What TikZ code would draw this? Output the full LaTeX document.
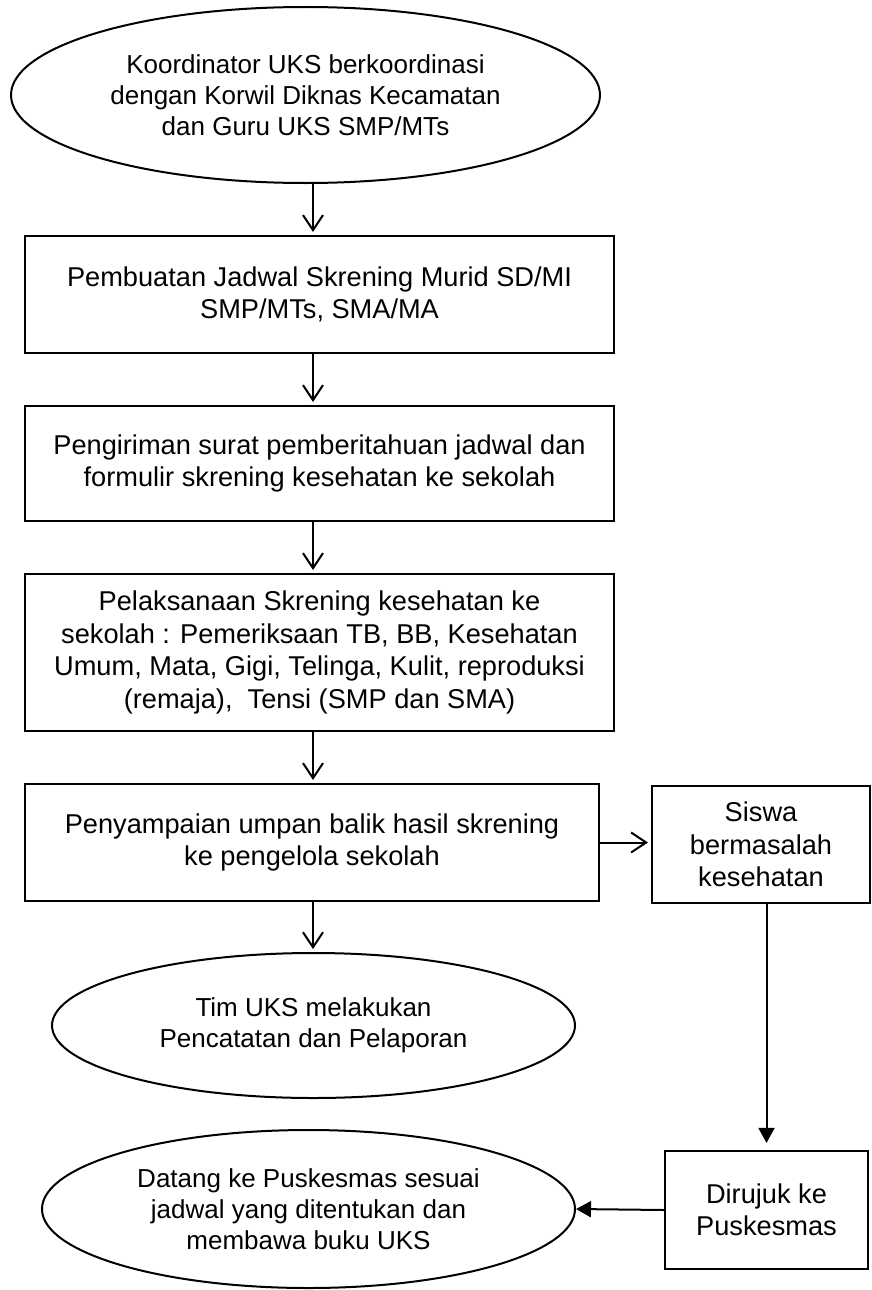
\documentclass[tikz,border=0pt]{standalone}
\usepackage{fontspec}
\setmainfont{Liberation Sans}
\usepackage{tikz}
\usetikzlibrary{positioning,shapes.geometric,arrows.meta}

\begin{document}
\begin{tikzpicture}[x=1pt,y=-1pt,
    box/.style={draw,line width=2.2pt,align=center,inner sep=0pt,font=\fontsize{27.2}{32.5}\selectfont},
    oval/.style={ellipse,draw,line width=2pt,align=center,inner sep=0pt,font=\fontsize{26}{31}\selectfont},
    flow/.style={line width=2pt,-{Straight Barb[length=15pt,width=20pt]},shorten >=3pt},
    refer/.style={line width=2pt,-{Triangle[length=15pt,width=16pt]}}]
    \useasboundingbox (0,0) rectangle (872,1290);
    \node [oval,minimum width=589pt,minimum height=176pt] (koord) at (305.5,95) {Koordinator UKS berkoordinasi\\dengan Korwil Diknas Kecamatan\\dan Guru UKS SMP/MTs};
    \node [box,minimum width=589pt,minimum height=117pt] (jadwal) at (319.5,294.5) {Pembuatan Jadwal Skrening Murid SD/MI\\SMP/MTs, SMA/MA};
    \node [box,minimum width=589pt,minimum height=115pt] (kirim) at (319.5,463.5) {Pengiriman surat pemberitahuan jadwal dan\\formulir skrening kesehatan ke sekolah};
    \node [box,minimum width=589pt,minimum height=157pt] (laksana) at (319.5,652.5) {Pelaksanaan Skrening kesehatan ke\\sekolah : Pemeriksaan TB, BB, Kesehatan\\Umum, Mata, Gigi, Telinga, Kulit, reproduksi\\(remaja),~ Tensi (SMP dan SMA)};
    \node [box,minimum width=574pt,minimum height=117pt] (balik) at (312,842.5) {Penyampaian umpan balik hasil skrening\\ke pengelola sekolah};
    \node [box,minimum width=218pt,minimum height=117pt] (siswa) at (761,844.5) {Siswa\\bermasalah\\kesehatan};
    \node [oval,minimum width=523pt,minimum height=145pt] (catat) at (313.5,1025.5) {Tim UKS melakukan\\Pencatatan dan Pelaporan};
    \node [box,minimum width=203pt,minimum height=118pt] (rujuk) at (766.5,1210) {Dirujuk ke\\Puskesmas};
    \node [oval,minimum width=533pt,minimum height=158pt] (datang) at (308.5,1209) {Datang ke Puskesmas sesuai\\jadwal yang ditentukan dan\\membawa buku UKS};
    \coordinate (ax) at (313,0);
    \draw [flow] (ax |- koord.south) -- (ax |- jadwal.north);
    \draw [flow] (ax |- jadwal.south) -- (ax |- kirim.north);
    \draw [flow] (ax |- kirim.south) -- (ax |- laksana.north);
    \draw [flow] (ax |- laksana.south) -- (ax |- balik.north);
    \draw [flow] (ax |- balik.south) -- (ax |- catat.north);
    \draw [flow] (balik.east) -- (balik.east -| siswa.west);
    \draw [refer,shorten >=7pt] (rujuk.north |- siswa.south) -- (rujuk.north);
    \draw [refer] (rujuk.west) -- (datang.east);
\end{tikzpicture}
\end{document}
